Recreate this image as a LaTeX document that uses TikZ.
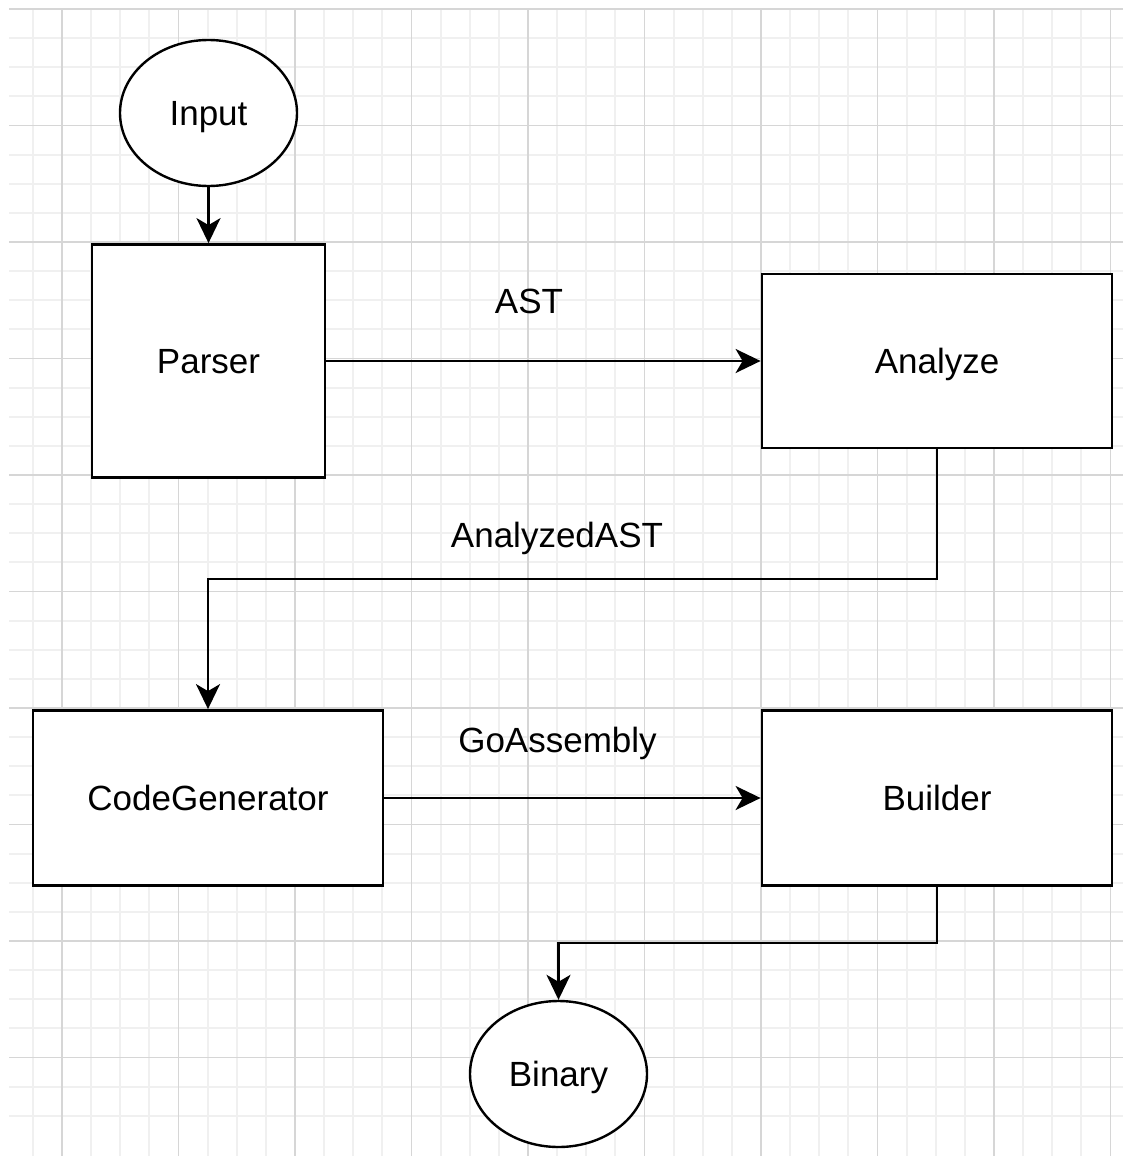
\documentclass[tikz,border=0pt]{standalone}
\usepackage{fontspec}
\setmainfont{Liberation Sans}
\usetikzlibrary{arrows.meta,shapes.geometric}
\definecolor{gridminor}{HTML}{F0F0F0}
\definecolor{gridmajor}{HTML}{D6D6D6}
\tikzset{
  lbl/.style={font=\fontsize{35}{41}\selectfont, text=black},
  block/.style={lbl, draw=black, line width=2.8pt, fill=white, rectangle,
    inner sep=0pt, text height=25pt, text depth=0pt},
  terminal/.style={lbl, draw=black, line width=2.4pt, fill=white, ellipse,
    inner sep=0pt, minimum width=177pt, minimum height=146pt,
    text height=25pt, text depth=0pt},
  conn/.style={draw=black, line width=2.4pt,
    -{Stealth[length=25pt, width=24pt, inset=7pt]}},
  minorline/.style={draw=gridminor, line width=1.9pt},
  majorline/.style={draw=gridmajor, line width=1.5pt},
}
\begin{document}
\begin{tikzpicture}[x=1pt, y=-1pt]
  % canvas
  \fill[white] (0,0) rectangle (1123,1156);
  \useasboundingbox (0,0) rectangle (1123,1156);

  % background grid: minor cells of 29.125, major every 4 cells
  \begin{scope}
    \clip (9,9) rectangle (1123,1156);
    \foreach \i in {-1,...,38} {
      \draw[minorline] ({62+29.125*\i},9) -- ({62+29.125*\i},1156);
      \draw[minorline] (9,{9+29.125*\i}) -- (1123,{9+29.125*\i});
    }
    \foreach \i in {0,...,9} {
      \draw[majorline] ({62+116.5*\i},9) -- ({62+116.5*\i},1156);
      \draw[majorline] (9,{9+116.5*\i}) -- (1123,{9+116.5*\i});
    }
  \end{scope}

  % stages
  \node[terminal] (input) at (208.5,113) {Input};
  \node[block, minimum width=233pt, minimum height=233pt] (parser) at (208.5,361) {Parser};
  \node[block, minimum width=350pt, minimum height=174pt] (analyze) at (937,361) {Analyze};
  \node[block, minimum width=350pt, minimum height=175pt] (codegen) at (208,798) {CodeGenerator};
  \node[block, minimum width=350pt, minimum height=175pt] (builder) at (937,798) {Builder};
  \node[terminal] (binary) at (558.5,1074) {Binary};

  % edge labels
  \node[lbl, anchor=base] (lAST) at (529,313) {AST};
  \node[lbl, anchor=base] (lAnalyzed) at (557,547) {AnalyzedAST};
  \node[lbl, anchor=base] (lGoAsm) at (557.5,752) {GoAssembly};

  % bend points of the elbow connectors
  \coordinate (bendA) at (937,579);
  \coordinate (bendB) at (937,943);

  % connectors
  \draw[conn] (input.south) -- (parser.north);
  \draw[conn] (parser.east) -- (analyze.west);
  \draw[conn] (analyze.south) -- (bendA) -| (codegen.north);
  \draw[conn] (codegen.east) -- (builder.west);
  \draw[conn] (builder.south) -- (bendB) -| (binary.north);
\end{tikzpicture}
\end{document}
